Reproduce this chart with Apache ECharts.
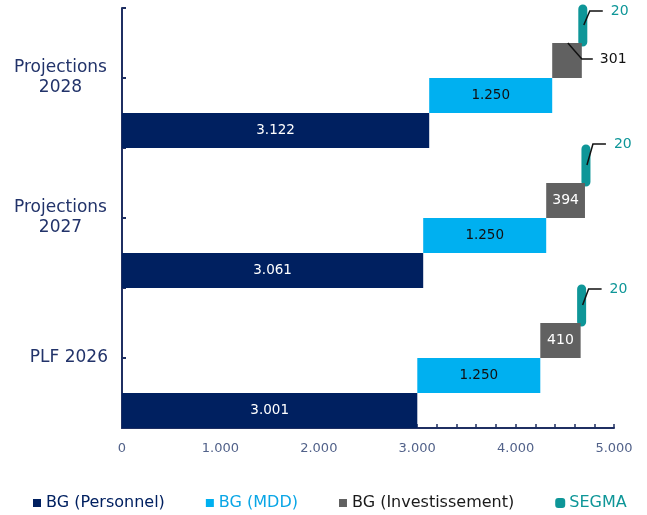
<!DOCTYPE html>
<html><head><meta charset="utf-8">
<script src="https://cdn.jsdelivr.net/npm/echarts@6/dist/echarts.min.js"></script>
<style>html,body{margin:0;padding:0;background:#fff}#c{width:647px;height:515px}</style>
</head><body><div id="c"></div>
<script>
// ---- data ----
const categories = ['PLF 2026', 'Projections 2027', 'Projections 2028'];
const personnel = [3001, 3061, 3122];
const mdd = [1250, 1250, 1250];
const investissement = [410, 394, 301];
const segma = [20, 20, 20];
const xTicks = [0, 1000, 2000, 3000, 4000, 5000];
const seriesNames = ['BG (Personnel)', 'BG (MDD)', 'BG (Investissement)', 'SEGMA'];

// ---- style ----
const FONT = 'DejaVu Sans';
const NAVY = '#002060', LIGHT = '#00B0F0', GRAY = '#616161', TEAL = '#0E9698';
const AXIS = '#1F2F62', LABEL = '#22336A', TICKLBL = '#52628A';
const segmaDy = [1, -4, 3];

const fmt = v => String(Math.round(v)).replace(/\B(?=(\d{3})+(?!\d))/g, '.');

const baseM = personnel.slice();
const baseI = personnel.map((v, i) => v + mdd[i]);
const baseS = baseI.map((v, i) => v + investissement[i]);
const investOutside = investissement.map(v => v < 350);

const annot = [];
segma.forEach((v, i) => annot.push([baseS[i] + v, i, 3, v]));
investissement.forEach((v, i) => { if (investOutside[i]) annot.push([baseI[i] + v, i, 2, v]); });

const common = { type: 'bar', barGap: '0%', barCategoryGap: '0%', emphasis: { disabled: true } };
const base = (stack, data) => Object.assign({}, common, {
  name: '_' + stack, stack, data, silent: true,
  itemStyle: { color: 'rgba(0,0,0,0)' }, label: { show: false }
});

const chart = echarts.init(document.getElementById('c'));
chart.setOption({
  animation: false,
  textStyle: { fontFamily: FONT },
  grid: { left: 122, right: 33, top: 8, bottom: 87 },
  xAxis: {
    type: 'value', min: xTicks[0], max: xTicks[xTicks.length - 1], interval: 1000,
    axisLine: { show: true, lineStyle: { color: AXIS, width: 2 } },
    axisTick: { show: true, inside: true, length: 4, lineStyle: { color: AXIS, width: 1.5 } },
    minorTick: { show: true, splitNumber: 5, length: 4, lineStyle: { color: AXIS, width: 1.5 } },
    splitLine: { show: false },
    axisLabel: { color: TICKLBL, fontSize: 13, fontFamily: FONT, margin: 14, formatter: v => fmt(v) }
  },
  yAxis: [{
    type: 'category', data: categories,
    axisLine: { show: true, lineStyle: { color: AXIS, width: 2 } },
    axisTick: { show: true, inside: true, length: 4, lineStyle: { color: AXIS, width: 2 } },
    axisLabel: {
      margin: 14, color: LABEL, fontSize: 17, fontFamily: FONT, lineHeight: 20,
      formatter: v => {
        const parts = v.split(' ');
        if (parts[0] === 'Projections') return '{c|' + parts[0] + '}\n{c|' + parts[1] + '}';
        return '{r|' + v + '}';
      },
      rich: {
        c: { width: 95, align: 'center', color: LABEL, fontSize: 17, fontFamily: FONT, lineHeight: 20 },
        r: { color: LABEL, fontSize: 17, fontFamily: FONT }
      }
    }
  }, {
    type: 'category', data: categories, position: 'right', offset: -492,
    axisLine: { show: false },
    axisTick: { show: true, inside: false, alignWithLabel: true, length: 4, lineStyle: { color: AXIS, width: 2 } },
    axisLabel: { show: false }, splitLine: { show: false }
  }],
  legend: {
    left: 28, top: 490, itemWidth: 8, itemHeight: 8, itemGap: 41, icon: 'rect',
    textStyle: { fontSize: 16, fontFamily: FONT },
    selectedMode: false,
    data: [
      { name: seriesNames[0], textStyle: { color: NAVY } },
      { name: seriesNames[1], textStyle: { color: '#0AA6E6' } },
      { name: seriesNames[2], textStyle: { color: '#1a1a1a' } },
      { name: seriesNames[3], icon: 'roundRect', textStyle: { color: TEAL } }
    ]
  },
  series: [
    base('s', baseS),
    Object.assign({}, common, {
      name: seriesNames[3], stack: 's', data: segma,
      itemStyle: { color: TEAL, borderColor: TEAL, borderWidth: 9, borderJoin: 'round' },
      label: { show: false }
    }),
    base('i', baseI),
    Object.assign({}, common, {
      name: seriesNames[2], stack: 'i',
      data: investissement.map((v, i) => ({ value: v, label: { show: !investOutside[i] } })),
      itemStyle: { color: GRAY },
      label: { show: true, position: 'inside', color: '#fff', fontSize: 14, fontFamily: FONT, formatter: p => fmt(p.value) }
    }),
    base('m', baseM),
    Object.assign({}, common, {
      name: seriesNames[1], stack: 'm', data: mdd,
      itemStyle: { color: LIGHT },
      label: { show: true, position: 'inside', color: '#111', fontSize: 13.5, fontFamily: FONT, formatter: p => fmt(p.value) }
    }),
    Object.assign({}, common, {
      name: seriesNames[0], stack: 'p', data: personnel,
      itemStyle: { color: NAVY },
      label: { show: true, position: 'inside', color: '#fff', fontSize: 13.5, fontFamily: FONT, formatter: p => fmt(p.value) }
    }),
    {
      type: 'custom', name: '_annot', silent: true, clip: false, z: 5,
      encode: { x: 0, y: 1 },
      data: annot,
      renderItem: (params, api) => {
        const ci = api.value(1), row = api.value(2), val = api.value(3);
        const p = api.coord([api.value(0), ci]);
        const bandH = api.size([0, 1])[1];
        const rowH = bandH / 4;
        const top = p[1] + bandH / 2 - (row + 1) * rowH;
        const E = p[0];
        if (row === 3) {
          const dy = segmaDy[ci];
          return { type: 'group', children: [
            { type: 'polyline', shape: { points: [[E, top + 17], [E + 6, top + dy], [E + 19, top + dy]] },
              style: { stroke: '#111', lineWidth: 1.5, fill: null } },
            { type: 'text', style: { text: fmt(val), x: E + 27, y: top + dy, verticalAlign: 'middle', align: 'left',
              fill: TEAL, fontSize: 14, fontFamily: FONT } }
          ] };
        }
        return { type: 'group', children: [
          { type: 'polyline', shape: { points: [[E - 14, top], [E, top + 16], [E + 11, top + 16]] },
            style: { stroke: '#111', lineWidth: 1.5, fill: null } },
          { type: 'text', style: { text: fmt(val), x: E + 18, y: top + 16, verticalAlign: 'middle', align: 'left',
            fill: '#111', fontSize: 14, fontFamily: FONT } }
        ] };
      }
    }
  ]
});
</script>
</body></html>
